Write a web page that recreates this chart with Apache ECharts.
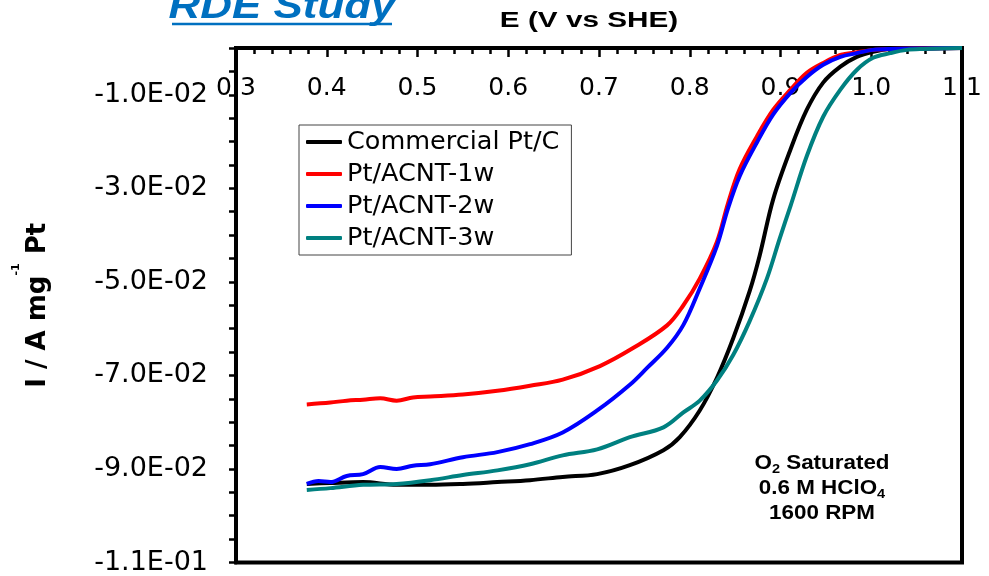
<!DOCTYPE html>
<html>
<head>
<meta charset="utf-8">
<script src="https://cdn.jsdelivr.net/npm/echarts@6/dist/echarts.min.js"></script>
<style>html,body{margin:0;padding:0;background:#fff}#chart{width:989px;height:576px}</style>
</head>
<body>
<div id="chart"></div>
<script>
// ---- data (E in V vs SHE, I in A mg^-1 Pt) ----
const seriesNames = ['Commercial Pt/C', 'Pt/ACNT-1w', 'Pt/ACNT-2w', 'Pt/ACNT-3w'];
const seriesColors = ['#000000', '#FF0000', '#0000FF', '#008080'];

const potentialCommercial = [0.378,0.404,0.440,0.477,0.514,0.550,0.588,0.624,0.660,0.698,0.734,0.771,0.789,0.811,0.830,0.848,0.866,0.877,0.892,0.911,0.929,0.947,0.966,0.984,1.002,1.021,1.060,1.100];
const currentCommercial   = [-0.0932,-0.0930,-0.0928,-0.0934,-0.0934,-0.0932,-0.0928,-0.0924,-0.0917,-0.0911,-0.0892,-0.0860,-0.0832,-0.0775,-0.0705,-0.0620,-0.0520,-0.0444,-0.0323,-0.0217,-0.0132,-0.0074,-0.0040,-0.0019,-0.0008,-0.0002,-0.0001,0];

const potential1w = [0.378,0.404,0.422,0.440,0.459,0.477,0.495,0.514,0.550,0.588,0.624,0.660,0.701,0.738,0.775,0.793,0.811,0.830,0.842,0.855,0.874,0.892,0.911,0.929,0.947,0.966,0.984,1.002,1.021,1.060,1.100];
const current1w   = [-0.0762,-0.0758,-0.0754,-0.0752,-0.0749,-0.0754,-0.0747,-0.0745,-0.0741,-0.0733,-0.0722,-0.0709,-0.0680,-0.0641,-0.0593,-0.0550,-0.0493,-0.0414,-0.0333,-0.0259,-0.0189,-0.0132,-0.0089,-0.0053,-0.0032,-0.0015,-0.0009,-0.0004,-0.0002,-0.0001,0];

const potential2w = [0.378,0.391,0.404,0.422,0.440,0.459,0.477,0.495,0.514,0.550,0.588,0.624,0.660,0.698,0.734,0.753,0.775,0.793,0.811,0.830,0.842,0.855,0.874,0.892,0.911,0.929,0.947,0.966,0.984,1.002,1.021,1.060,1.100];
const current2w   = [-0.0932,-0.0926,-0.0928,-0.0915,-0.0911,-0.0896,-0.0900,-0.0893,-0.0890,-0.0875,-0.0864,-0.0847,-0.0822,-0.0775,-0.0720,-0.0684,-0.0641,-0.0592,-0.0514,-0.0423,-0.0344,-0.0274,-0.0202,-0.0142,-0.0096,-0.0062,-0.0036,-0.0019,-0.0011,-0.0004,-0.0002,-0.0001,0];

const potential3w = [0.378,0.404,0.440,0.477,0.514,0.550,0.588,0.624,0.660,0.698,0.734,0.771,0.793,0.811,0.830,0.848,0.866,0.885,0.899,0.911,0.929,0.947,0.966,0.984,1.002,1.021,1.039,1.057,1.100];
const current3w   = [-0.0945,-0.0941,-0.0934,-0.0932,-0.0924,-0.0913,-0.0903,-0.0890,-0.0871,-0.0858,-0.0832,-0.0811,-0.0779,-0.0754,-0.0711,-0.0656,-0.0584,-0.0493,-0.0408,-0.0338,-0.0231,-0.0147,-0.0089,-0.0047,-0.0021,-0.0011,-0.0004,-0.0002,0];

// axis labels / ticks
const yLabelValues = [-0.11,-0.09,-0.07,-0.05,-0.03,-0.01];
const yTickValues = [-0.11,-0.105,-0.10,-0.095,-0.09,-0.085,-0.08,-0.075,-0.07,-0.065,-0.06,-0.055,-0.05,-0.045,-0.04,-0.035,-0.03,-0.025,-0.02,-0.015,-0.01,-0.005,0];

const potentials = [potentialCommercial, potential1w, potential2w, potential3w];
const currents = [currentCommercial, current1w, current2w, current3w];

function fmtSci(v) {
  if (v === 0) return '0.0E+00';
  const neg = v < 0;
  const a = Math.abs(v);
  const e = Math.floor(Math.log10(a) + 1e-9);
  const m = a / Math.pow(10, e);
  return (neg ? '-' : '') + m.toFixed(1) + 'E' + (e < 0 ? '-' : '+') + String(Math.abs(e)).padStart(2, '0');
}

const chart = echarts.init(document.getElementById('chart'), null, {renderer: 'canvas'});
const option = {
  animation: false,
  backgroundColor: '#ffffff',
  grid: {left: 236, right: 27, top: 48, bottom: 10, show: true, borderColor: '#000', borderWidth: 4, backgroundColor: 'transparent'},
  legend: {
    data: seriesNames,
    orient: 'vertical',
    left: 299, top: 125,
    padding: [3, 12, 3, 7],
    itemGap: 4,
    itemWidth: 36, itemHeight: 4,
    itemTextGap: 6,
    icon: 'roundRect',
    borderColor: '#444', borderWidth: 1,
    backgroundColor: '#fff',
    textStyle: {fontFamily: 'DejaVu Sans', fontSize: 25.5, color: '#000', lineHeight: 28}
  },
  xAxis: {
    type: 'value', position: 'top', min: 0.3, max: 1.1, interval: 0.1,
    axisLine: {show: true, onZero: false, lineStyle: {color: '#000', width: 4}},
    axisTick: {show: true, inside: true, length: 9, lineStyle: {color: '#000', width: 2.5}},
    minorTick: {show: true, splitNumber: 5, length: 6, lineStyle: {color: '#000', width: 2.5}},
    splitLine: {show: false},
    axisLabel: {inside: true, margin: 28, color: '#000', fontFamily: 'DejaVu Sans', fontSize: 25,
      formatter: v => v.toFixed(1), showMinLabel: true, showMaxLabel: true}
  },
  yAxis: {
    type: 'value', min: -0.11, max: 0, interval: 0.01,
    axisLine: {show: true, onZero: false, lineStyle: {color: '#000', width: 4}},
    axisTick: {show: true, inside: false, length: 7, customValues: yTickValues, lineStyle: {color: '#000', width: 2.5}},
    axisLabel: {customValues: yLabelValues, margin: 28, color: '#000', fontFamily: 'DejaVu Sans', fontSize: 27, formatter: fmtSci},
    splitLine: {show: false},
    name: '{t|I / A mg}{s|-1}{t| Pt}',
    nameLocation: 'middle', nameRotate: 90, nameGap: 171,
    nameTextStyle: {
      rich: {
        t: {fontFamily: 'DejaVu Sans', fontWeight: 'bold', fontSize: 26, color: '#000', lineHeight: 54},
        s: {fontFamily: 'DejaVu Sans', fontWeight: 'bold', fontSize: 11, color: '#000', lineHeight: 11, verticalAlign: 'top'}
      }
    }
  },
  graphic: [
    {type: 'text', x: 282, y: 8.5, scaleX: 1.22, z: 10,
      style: {text: 'RDE Study', x: 0, y: 0, align: 'center', verticalAlign: 'middle',
        fontFamily: 'Liberation Sans', fontWeight: 'bold', fontStyle: 'italic', fontSize: 36, fill: '#0070C0'}},
    {type: 'line', z: 10, shape: {x1: 172, y1: 24, x2: 392, y2: 24}, style: {stroke: '#0070C0', lineWidth: 2.5}},
    {type: 'text', x: 589, y: 21, scaleX: 1.35, z: 10,
      style: {text: 'E (V vs SHE)', x: 0, y: 0, align: 'center', verticalAlign: 'middle',
        fontFamily: 'Liberation Sans', fontWeight: 'bold', fontSize: 22, fill: '#000'}},
    {type: 'text', x: 822, y: 451, scaleX: 1.12, z: 10,
      style: {
        text: '{b|O}{s|2}{b| Saturated}\n{b|0.6 M HClO}{s|4}\n{b|1600 RPM}',
        x: 0, y: 0, align: 'center', verticalAlign: 'top',
        rich: {
          b: {fontFamily: 'Liberation Sans', fontWeight: 'bold', fontSize: 20, lineHeight: 25, fill: '#000'},
          s: {fontFamily: 'Liberation Sans', fontWeight: 'bold', fontSize: 13, lineHeight: 13, verticalAlign: 'bottom', fill: '#000'}
        }
      }}
  ],
  series: seriesNames.map((name, i) => ({
    name: name,
    type: 'line',
    data: potentials[i].map((e, j) => [e, currents[i][j]]),
    showSymbol: false,
    symbol: 'none',
    smooth: 0.35,
    lineStyle: {color: seriesColors[i], width: 4},
    itemStyle: {color: seriesColors[i]},
    z: 2 + i
  }))
};
chart.setOption(option);
</script>
</body>
</html>
